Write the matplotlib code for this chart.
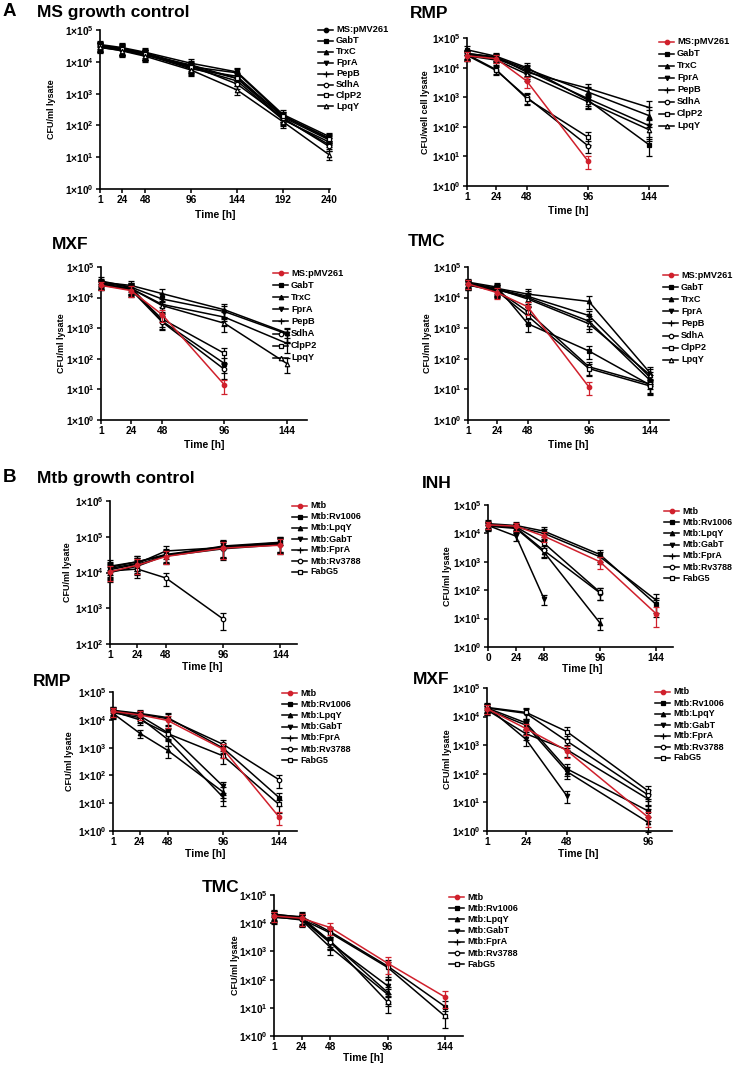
import numpy as np
import matplotlib
matplotlib.use('Agg')
import matplotlib.pyplot as plt
from matplotlib.lines import Line2D
from matplotlib.ticker import FixedLocator, FuncFormatter, NullLocator

plt.rcParams['font.family'] = ['Liberation Sans', 'DejaVu Sans']
plt.rcParams['font.weight'] = 'bold'
plt.rcParams['mathtext.fontset'] = 'custom'
plt.rcParams['mathtext.rm'] = 'Liberation Sans:bold'
plt.rcParams['mathtext.default'] = 'rm'

W, H = 736, 1065
RED = '#d0202c'
nan = np.nan

# ---- series names ----
a_labels = ['MS:pMV261', 'GabT', 'TrxC', 'FprA', 'PepB', 'SdhA', 'ClpP2', 'LpqY']
b_labels = ['Mtb', 'Mtb:Rv1006', 'Mtb:LpqY', 'Mtb:GabT', 'Mtb:FprA', 'Mtb:Rv3788', 'FabG5']

# ---- A: M. smegmatis ----
a_ctrl_t = [1, 24, 48, 96, 144, 192, 240]
a_ctrl = [
    [3.2e4, 2.6e4, 1.8e4, 7.0e3, 4.5e3, 200, 40],
    [3.5e4, 2.8e4, 2.0e4, 9.0e3, 4.8e3, 220, 45],
    [3.0e4, 2.5e4, 1.7e4, 6.0e3, 3.5e3, 180, 35],
    [2.8e4, 2.3e4, 1.6e4, 8.0e3, 3.0e3, 160, 25],
    [3.0e4, 2.4e4, 1.7e4, 6.5e3, 2.5e3, 150, 30],
    [3.3e4, 2.6e4, 1.9e4, 7.5e3, 2.0e3, 170, 22],
    [3.1e4, 2.5e4, 1.8e4, 7.0e3, 3.0e3, 200, 38],
    [2.9e4, 2.2e4, 1.5e4, 5.5e3, 1.3e3, 130, 12],
]
a_ctrl_err = [0.3, 0.35, 0.35, 0.35, 0.3, 0.35, 0.3]

a_drug_t = [1, 24, 48, 96, 144]
a_rmp = [
    [2.5e4, 2.0e4, 3.5e3, 7, nan],
    [4.0e4, 2.4e4, 1.0e4, 800, 25],
    [3.0e4, 2.2e4, 9.0e3, 1.5e3, 240],
    [2.8e4, 2.0e4, 8.0e3, 900, 110],
    [3.0e4, 2.3e4, 7.0e3, 2.0e3, 450],
    [2.6e4, 8.0e3, 1.0e3, 23, nan],
    [2.8e4, 8.5e3, 900, 45, nan],
    [2.5e4, 1.8e4, 6.0e3, 700, 80],
]
a_rmp_err = [0.35, 0.3, 0.4, 0.45, 0.6]

a_mxf = [
    [2.5e4, 1.7e4, 2.8e3, 14, nan],
    [3.5e4, 2.2e4, 1.7e3, 70, nan],
    [3.2e4, 2.5e4, 1.35e4, 4.0e3, 700],
    [3.0e4, 2.2e4, 9.0e3, 3.5e3, 650],
    [2.8e4, 2.0e4, 6.0e3, 2.3e3, 320],
    [2.6e4, 1.8e4, 1.6e3, 45, nan],
    [2.7e4, 1.9e4, 2.0e3, 150, nan],
    [2.5e4, 2.0e4, 5.5e3, 1.45e3, 70],
]
a_mxf_err = [0.3, 0.4, 0.45, 0.5, 0.5]

a_tmc = [
    [2.8e4, 1.45e4, 5.0e3, 12, nan],
    [3.2e4, 2.2e4, 1.4e3, 180, 14],
    [3.0e4, 2.0e4, 1.3e4, 7.5e3, 35],
    [2.9e4, 1.9e4, 1.1e4, 2.6e3, 25],
    [2.8e4, 1.8e4, 1.0e4, 1.7e3, 20],
    [2.7e4, 1.7e4, 3.5e3, 55, 15],
    [2.6e4, 1.6e4, 2.5e3, 48, 13],
    [2.5e4, 1.9e4, 9.0e3, 1.4e3, 30],
]
a_tmc_err = [0.3, 0.4, 0.45, 0.45, 0.5]

# ---- B: M. tuberculosis ----
b_t = [1, 24, 48, 96, 144]
b_ctrl = [
    [1.05e4, 1.6e4, 2.8e4, 4.8e4, 5.8e4],
    [1.4e4, 2.0e4, 3.0e4, 5.5e4, 7.0e4],
    [1.3e4, 1.8e4, 4.0e4, 5.0e4, 6.5e4],
    [1.5e4, 2.0e4, 3.2e4, 5.2e4, 6.8e4],
    [1.2e4, 1.7e4, 2.9e4, 4.6e4, 6.0e4],
    [1.1e4, 1.25e4, 7.0e3, 500, nan],
    [1.0e4, 1.5e4, 3.0e4, 5.0e4, 6.2e4],
]
b_ctrl_err = [0.45, 0.45, 0.4, 0.5, 0.45]

b_inh_t = [0, 24, 48, 96, 144]
b_inh = [
    [2.0e4, 1.8e4, 8.0e3, 1.0e3, 15],
    [2.2e4, 1.9e4, 1.2e4, 1.8e3, 32],
    [1.8e4, 1.5e4, 2.2e3, 7, nan],
    [1.9e4, 8.0e3, 50, nan, nan],
    [2.0e4, 1.7e4, 1.0e4, 1.5e3, 45],
    [1.9e4, 1.6e4, 2.5e3, 80, nan],
    [2.1e4, 1.7e4, 4.5e3, 85, nan],
]
b_inh_err = [0.3, 0.3, 0.4, 0.45, 0.65]

b_rmp = [
    [2.0e4, 1.5e4, 9.5e3, 870, 3.2],
    [2.2e4, 1.7e4, 1.2e4, 950, 16],
    [1.7e4, 3.3e3, 800, 25, nan],
    [1.9e4, 1.4e4, 3.5e3, 40, nan],
    [1.8e4, 1.2e4, 2.0e3, 16, nan],
    [2.1e4, 1.6e4, 1.1e4, 1.3e3, 70],
    [2.0e4, 1.0e4, 3.2e3, 500, 9],
]
b_rmp_err = [0.35, 0.35, 0.45, 0.5, 0.5]

b_mxf_t = [1, 24, 48, 96]
b_mxf = [
    [1.9e4, 3.8e3, 650, 3],
    [2.0e4, 6.0e3, 150, 5],
    [1.8e4, 5.0e3, 120, 2],
    [2.2e4, 1.6e3, 17, nan],
    [1.7e4, 2.5e3, 700, 13],
    [2.0e4, 1.3e4, 1.4e3, 18],
    [2.1e4, 1.4e4, 3.0e3, 25],
]
b_mxf_err = [0.35, 0.4, 0.45, 0.55]

b_tmc = [
    [1.8e4, 1.5e4, 7.0e3, 380, 24],
    [2.0e4, 1.7e4, 5.0e3, 300, 11],
    [2.1e4, 1.6e4, 2.3e3, 35, nan],
    [1.9e4, 1.4e4, 2.0e3, 60, nan],
    [1.7e4, 1.3e4, 1.4e3, 30, nan],
    [2.0e4, 1.5e4, 2.2e3, 16, nan],
    [1.6e4, 1.4e4, 4.5e3, 270, 5],
]
b_tmc_err = [0.4, 0.45, 0.45, 0.6, 0.6]

# marker style per series (symbol, filled)
a_marks = [('o', True), ('s', True), ('^', True), ('v', True), ('+', True),
           ('o', False), ('s', False), ('^', False)]
b_marks = [('o', True), ('s', True), ('^', True), ('v', True), ('+', True),
           ('o', False), ('s', False)]

fig = plt.figure(figsize=(W / 100, H / 100), dpi=100)


def fx(x):
    return x / W


def fy(y):
    return 1 - y / H


def decade_fmt(v, pos):
    return '1×10$^{%d}$' % round(np.log10(v))


def draw_panel(box, times, vals, err, labels, marks, xlim, xticks, ylim,
               ylabel, red_first, lab_x, time_xy, leg, leg_fs):
    l, t, r, b = box
    ax = fig.add_axes([fx(l), fy(b), (r - l) / W, (b - t) / H])
    ax.set_yscale('log')
    n = len(vals)
    for i in range(n):
        v = np.array(vals[i], dtype=float)
        e = v * np.array(err)
        col = RED if (red_first and i == 0) else 'black'
        m, filled = marks[i]
        ax.errorbar(times, v, yerr=e, color=col, lw=1.1, elinewidth=0.9,
                    capsize=2, capthick=0.9, marker=m, ms=3.2 if m != '+' else 4.5,
                    mfc=col if filled else 'white', mec=col, mew=0.9,
                    zorder=5 if col == RED else 3, clip_on=False)
    ax.set_xlim(*xlim)
    ax.set_ylim(*ylim)
    ax.xaxis.set_major_locator(FixedLocator(xticks))
    lo, hi = int(np.log10(ylim[0])), int(np.log10(ylim[1]))
    ax.yaxis.set_major_locator(FixedLocator([10.0 ** k for k in range(lo, hi + 1)]))
    ax.yaxis.set_minor_locator(NullLocator())
    ax.yaxis.set_major_formatter(FuncFormatter(decade_fmt))
    for s in ['top', 'right']:
        ax.spines[s].set_visible(False)
    for s in ['left', 'bottom']:
        ax.spines[s].set_linewidth(1.2)
    ax.tick_params(direction='out', length=3, width=1.1, labelsize=7.3, pad=1.5)
    for lab in ax.get_xticklabels() + ax.get_yticklabels():
        lab.set_fontweight('bold')
    ax.set_ylabel(ylabel, fontsize=6.5, fontweight='bold', va='center')
    ax.yaxis.set_label_coords((lab_x - l) / (r - l), 0.5)
    ax.set_xlabel('Time [h]', fontsize=7.5, fontweight='bold', va='center')
    ax.xaxis.set_label_coords((time_xy[0] - l) / (r - l), (b - time_xy[1]) / (b - t))

    # legend drawn row by row
    x0, y0, dy = leg
    for i in range(n):
        y = y0 + i * dy
        col = RED if (red_first and i == 0) else 'black'
        m, filled = marks[i]
        fig.add_artist(Line2D([fx(x0), fx(x0 + 15)], [fy(y), fy(y)],
                              transform=fig.transFigure, color=col, lw=1.1))
        fig.add_artist(Line2D([fx(x0 + 7.5)], [fy(y)], transform=fig.transFigure,
                              marker=m, ms=3.2 if m != '+' else 4.5, color=col,
                              mfc=col if filled else 'white', mec=col, mew=0.9))
        fig.text(fx(x0 + 18), fy(y), labels[i], fontsize=leg_fs, fontweight='bold',
                 va='center', ha='left')
    return ax


def title(x, y, s, size=12.5):
    fig.text(fx(x), fy(y), s, fontsize=size, fontweight='bold', va='center', ha='left')


# ---------------- panel A ----------------
title(3, 12, 'A', 13.5)
title(37, 12, 'MS growth control')
draw_panel((100, 30, 330, 189), a_ctrl_t, a_ctrl, a_ctrl_err, a_labels, a_marks,
           (1, 241), a_ctrl_t, (1, 1e5), 'CFU/ml lysate', False, 52, (215, 215),
           (318, 30, 10.9), 6.7)

title(410, 13, 'RMP')
draw_panel((467, 38, 668, 186), a_drug_t, a_rmp, a_rmp_err, a_labels, a_marks,
           (1, 159), a_drug_t, (1, 1e5), 'CFU/well cell lysate', True, 425, (568, 211),
           (659, 42, 12.0), 6.7)

title(52, 244, 'MXF')
draw_panel((101, 267, 307, 420), a_drug_t, a_mxf, a_mxf_err, a_labels, a_marks,
           (1, 159.5), a_drug_t, (1, 1e5), 'CFU/ml lysate', True, 62, (204, 445),
           (273, 273, 12.1), 6.7)

title(408, 241, 'TMC')
draw_panel((468, 267, 669, 420), a_drug_t, a_tmc, a_tmc_err, a_labels, a_marks,
           (1, 159), a_drug_t, (1, 1e5), 'CFU/ml lysate', True, 427, (568, 445),
           (663, 275, 12.1), 6.6)

# ---------------- panel B ----------------
title(3, 478, 'B', 13.5)
title(37, 478, 'Mtb growth control')
draw_panel((110, 501, 297, 644), b_t, b_ctrl, b_ctrl_err, b_labels, b_marks,
           (1, 158), b_t, (1e2, 1e6), 'CFU/ml lysate', True, 68, (202, 667),
           (292, 506, 11.0), 6.5)

title(422, 483, 'INH')
draw_panel((488, 505, 673, 647), b_inh_t, b_inh, b_inh_err, b_labels, b_marks,
           (0, 158.6), b_inh_t, (1, 1e5), 'CFU/ml lysate', True, 448, (582, 669),
           (664, 511, 11.2), 6.4)

title(33, 682, 'RMP')
draw_panel((113, 692, 297, 831), b_t, b_rmp, b_rmp_err, b_labels, b_marks,
           (1, 159.5), b_t, (1, 1e5), 'CFU/ml lysate', True, 70, (205, 854),
           (282, 693, 11.2), 6.5)

title(413, 680, 'MXF')
draw_panel((487, 688, 672, 831), b_mxf_t, b_mxf, b_mxf_err, b_labels, b_marks,
           (1, 110), b_mxf_t, (1, 1e5), 'CFU/ml lysate', True, 448, (578, 854),
           (655, 692, 11.0), 6.5)

title(202, 887, 'TMC')
draw_panel((274, 895, 463, 1036), b_t, b_tmc, b_tmc_err, b_labels, b_marks,
           (1, 159), b_t, (1, 1e5), 'CFU/ml lysate', True, 236, (363, 1058),
           (449, 897, 11.2), 6.5)

fig.savefig('out.png', dpi=100)
